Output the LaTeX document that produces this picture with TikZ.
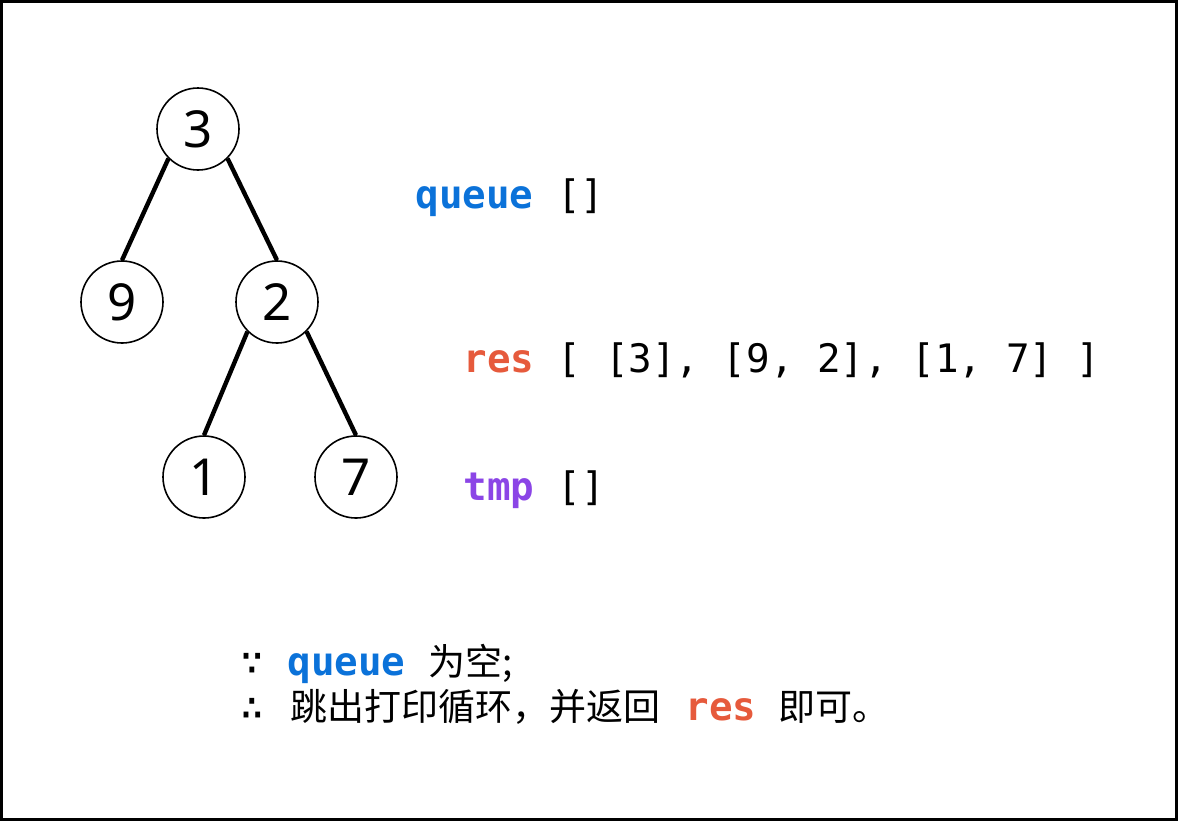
\documentclass[tikz,border=0pt]{standalone}
\usepackage{fontspec}
\setmainfont{Noto Sans}
\newfontfamily\codefont{DejaVu Sans Mono}
\newfontfamily\cjkfont{Noto Sans CJK SC}
\definecolor{ink}{HTML}{000000}
\definecolor{qblue}{HTML}{0B72D9}
\definecolor{resred}{HTML}{E65A3C}
\definecolor{tmppurple}{HTML}{8B45E6}
\tikzset{every node/.style={text=ink,inner sep=0pt},
tnode/.style={draw=ink,circle,line width=.8pt,minimum size=41pt,font=\fontsize{25.5}{25.5}\selectfont},
edge/.style={draw=ink,line width=2.2pt},
code/.style={anchor=base west,font=\codefont\fontsize{19.6}{19.6}\selectfont},
note/.style={anchor=base west,font=\cjkfont\fontsize{18.5}{18.5}\selectfont}}

\begin{document}
\begin{tikzpicture}[x=.5pt,y=-.5pt]
\useasboundingbox (0,0) rectangle (1178,821);
\draw[line width=1.5pt] (1.5,1.5) rectangle (1176.5,819.5);
% tree
\node[tnode] (n3) at (198,129) {3};
\node[tnode] (n9) at (122,302) {9};
\node[tnode] (n2) at (277,302) {2};
\node[tnode] (n1) at (204,477) {1};
\node[tnode] (n7) at (356,477) {7};
\draw[edge] (n3.south west)--(n9.north);
\draw[edge] (n3.south east)--(n2.north);
\draw[edge] (n2.south west)--(n1.north);
\draw[edge] (n2.south east)--(n7.north);
% state
\node[code] (queue) at (415,208) {\textcolor{qblue}{\bfseries queue} []};
\node[code] (res) at (463,372) {\textcolor{resred}{\bfseries res} [ [3], [9, 2], [1, 7] ]};
\node[code] (tmp) at (463,500) {\textcolor{tmppurple}{\bfseries tmp} []};
% conclusion
\node[code] (because) at (240,675) {∵};
\node[code] (q2) at (287,675) {\textcolor{qblue}{\bfseries queue}};
\node[note] (empty) at (428,675) {为空;};
\node[code] (therefore) at (240,720) {∴};
\node[note] (jump) at (290,720) {跳出打印循环，并返回};
\node[code] (r2) at (685,720) {\textcolor{resred}{\bfseries res}};
\node[note] (done) at (778,720) {即可。};
\end{tikzpicture}
\end{document}
